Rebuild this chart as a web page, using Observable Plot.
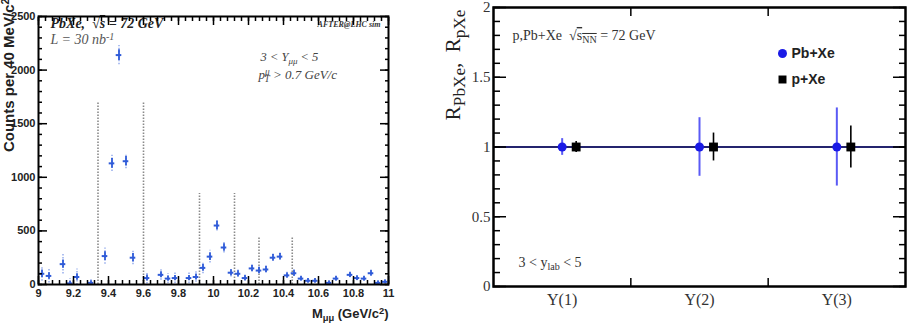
<!DOCTYPE html>
<html>
<head>
<meta charset="utf-8">
<script src="https://cdn.jsdelivr.net/npm/d3@7"></script>
<script src="https://cdn.jsdelivr.net/npm/@observablehq/plot@0.6"></script>
<style>
  html, body { margin: 0; padding: 0; background: white; }
  #wrap { display: flex; width: 909px; height: 327px; }
  #wrap svg { flex-shrink: 0; max-width: none; }
</style>
</head>
<body>
<div id="wrap"></div>
<script>
// ---------------- Left panel data ----------------
const mass = [9.02, 9.06, 9.14, 9.18, 9.22, 9.30, 9.38, 9.42, 9.46, 9.50, 9.54, 9.62, 9.70, 9.74, 9.78, 9.86, 9.90, 9.94, 9.98, 10.02, 10.06, 10.10, 10.14, 10.18, 10.22, 10.26, 10.30, 10.34, 10.38, 10.42, 10.46, 10.50, 10.54, 10.58, 10.66, 10.70, 10.78, 10.82, 10.86, 10.90, 10.94, 10.98];
const counts = [100, 80, 190, 10, 70, 15, 265, 1130, 2140, 1150, 250, 60, 90, 55, 60, 60, 70, 155, 260, 550, 345, 110, 100, 60, 150, 130, 140, 250, 260, 85, 105, 55, 35, 35, 15, 55, 90, 60, 55, 105, 15, 25];
const statErr = [35, 30, 38, 20, 30, 20, 40, 45, 50, 45, 40, 28, 28, 25, 25, 25, 28, 32, 35, 40, 35, 28, 28, 25, 28, 28, 28, 30, 30, 25, 28, 22, 20, 20, 18, 22, 25, 22, 22, 25, 18, 18];
const totErr = [70, 65, 93, 45, 75, 40, 75, 75, 90, 70, 65, 55, 50, 45, 50, 50, 50, 55, 60, 50, 50, 40, 35, 30, 35, 35, 35, 35, 35, 30, 30, 25, 25, 25, 20, 25, 28, 25, 25, 30, 20, 20];
const windowEdges = [9.34, 9.60, 9.92, 10.12, 10.26, 10.45];
const windowHeights = [1700, 1700, 850, 850, 440, 440];
const xTickLabels = [9, 9.2, 9.4, 9.6, 9.8, 10, 10.2, 10.4, 10.6, 10.8, 11];
const yTickLabelsL = [0, 500, 1000, 1500, 2000, 2500];

// ---------------- Right panel data ----------------
const states = ["Υ(1)", "Υ(2)", "Υ(3)"];
const rPbXe = [1, 1, 1];
const errPbXe = [0.06, 0.21, 0.28];
const rpXe = [1, 1, 1];
const errpXe = [0.04, 0.10, 0.15];
const yTickLabelsR = [0, 0.5, 1, 1.5, 2];

const BLUE = "#2f5bd8";
const LIGHTBLUE = "#8ea6ea";

const leftData = mass.map((m, i) => ({m, c: counts[i], s: statErr[i], t: totErr[i]}));
const windows = windowEdges.map((x, i) => ({x, h: windowHeights[i]}));

function range(a, b, step) { const out = []; const n = Math.round((b - a) / step); for (let i = 0; i <= n; i++) out.push(+(a + i * step).toFixed(4)); return out; }

const serif = "'Liberation Serif', 'Times New Roman', serif";
const sans = "'Liberation Sans', Arial, Helvetica, sans-serif";

const left = Plot.plot({
  width: 440, height: 327,
  marginLeft: 38, marginRight: 52, marginTop: 16, marginBottom: 43,
  x: {domain: [9, 11]},
  y: {domain: [0, 2500]},
  style: {fontFamily: sans, background: "white", overflow: "hidden"},
  marks: [
    Plot.ruleX(windows, {x: "x", y1: 0, y2: "h", stroke: "#8a8a8a", strokeWidth: 1.6, strokeDasharray: "1.5,1.5"}),
    Plot.ruleX(leftData, {x: "m", y1: d => d.c - d.t, y2: d => d.c + d.t, stroke: LIGHTBLUE, strokeWidth: 1.4, strokeDasharray: "1.5,1.5", clip: true}),
    Plot.ruleX(leftData, {x: "m", y1: d => Math.max(0, d.c - d.s), y2: d => d.c + d.s, stroke: BLUE, strokeWidth: 1.8}),
    Plot.ruleY(leftData, {y: "c", x1: d => d.m - 0.016, x2: d => d.m + 0.016, stroke: BLUE, strokeWidth: 2}),
    // annotations (drawn under the frame ticks)
    Plot.text(["PbXe,  √~{s} = 72 GeV"], {frameAnchor: "top-left", dx: 12, dy: 7, textAnchor: "start", lineAnchor: "middle", fontFamily: serif, fontStyle: "italic", fontWeight: "bold", fontSize: 14, fill: "#222", className: "rich"}),
    Plot.text(["L = 30 nb^{-1}"], {frameAnchor: "top-left", dx: 12, dy: 23, textAnchor: "start", lineAnchor: "middle", fontFamily: serif, fontStyle: "italic", fontSize: 14, fill: "#555", className: "rich"}),
    Plot.text(["AFTER@LHC sim"], {frameAnchor: "top-right", dx: -8, dy: 8, textAnchor: "end", lineAnchor: "middle", fontFamily: serif, fontStyle: "italic", fontWeight: "bold", fontSize: 8, fill: "#333"}),
    Plot.text(["3 < Y_{μμ} < 5"], {frameAnchor: "top-left", dx: 222, dy: 40, textAnchor: "start", lineAnchor: "middle", fontFamily: serif, fontStyle: "italic", fontSize: 12.5, fill: "#444", className: "rich"}),
    Plot.text(["p^{μ}!{T} > 0.7 GeV/c"], {frameAnchor: "top-left", dx: 220, dy: 58, textAnchor: "start", lineAnchor: "middle", fontFamily: serif, fontStyle: "italic", fontSize: 13, fill: "#444", className: "rich"}),
    Plot.text(["M_{μμ} (GeV/c^{2})"], {frameAnchor: "bottom-right", dx: 0, dy: 29, textAnchor: "end", lineAnchor: "middle", fontFamily: sans, fontWeight: "bold", fontSize: 13, fill: "#222", className: "rich"}),
    Plot.text(["Counts per 40 MeV/c^{2}"], {frameAnchor: "top-left", dx: -29, dy: -18, rotate: -90, textAnchor: "end", lineAnchor: "middle", fontFamily: sans, fontWeight: "bold", fontSize: 15, fill: "#222", className: "rich"}),
    // axes: minor & major ticks (inward), all four sides
    Plot.axisX({anchor: "bottom", ticks: range(9, 11, 0.04), tickSize: -4, tickFormat: () => "", label: null, strokeWidth: 1.5}),
    Plot.axisX({anchor: "bottom", ticks: xTickLabels, tickSize: -8, tickFormat: () => "", label: null, strokeWidth: 1.5}),
    Plot.axisX({anchor: "top", ticks: range(9, 11, 0.04), tickSize: -4, tickFormat: () => "", label: null, strokeWidth: 1.5}),
    Plot.axisX({anchor: "top", ticks: xTickLabels, tickSize: -8, tickFormat: () => "", label: null, strokeWidth: 1.5}),
    Plot.axisX({anchor: "bottom", ticks: xTickLabels, tickSize: 0, tickPadding: 5, label: null, tickFormat: d => String(+(+d).toFixed(1)), fontSize: 11, fontWeight: "bold", fill: "#222"}),
    Plot.axisY({anchor: "left", ticks: range(0, 2500, 100), tickSize: -4, tickFormat: () => "", label: null, strokeWidth: 1.5}),
    Plot.axisY({anchor: "left", ticks: yTickLabelsL, tickSize: -9, tickFormat: () => "", label: null, strokeWidth: 1.5}),
    Plot.axisY({anchor: "right", ticks: range(0, 2500, 100), tickSize: -4, tickFormat: () => "", label: null, strokeWidth: 1.5}),
    Plot.axisY({anchor: "right", ticks: yTickLabelsL, tickSize: -9, tickFormat: () => "", label: null, strokeWidth: 1.5}),
    Plot.axisY({anchor: "left", ticks: yTickLabelsL, tickSize: 0, tickPadding: 3, label: null, tickFormat: d => String(d), fontSize: 11, fontWeight: "bold", fill: "#222"}),
    Plot.frame({stroke: "black", strokeWidth: 2})
  ]
});

const pb = states.map((s, i) => ({x: i + 0.5, r: rPbXe[i], e: errPbXe[i]}));
const px = states.map((s, i) => ({x: i + 0.5, r: rpXe[i], e: errpXe[i]}));

const right = Plot.plot({
  width: 469, height: 327,
  marginLeft: 53, marginRight: 4, marginTop: 7, marginBottom: 41,
  x: {domain: [0, states.length]},
  y: {domain: [0, 2]},
  style: {fontFamily: serif, background: "white", overflow: "hidden"},
  marks: [
    Plot.ruleY([1], {stroke: "#24246e", strokeWidth: 2.2}),
    Plot.ruleX(pb, {x: "x", y1: d => d.r - d.e, y2: d => d.r + d.e, stroke: "#5a5af5", strokeWidth: 2}),
    Plot.dot(pb, {x: "x", y: "r", r: 4.5, fill: "#1a1ae6", stroke: "none"}),
    Plot.ruleX(px, {x: "x", y1: d => d.r - d.e, y2: d => d.r + d.e, dx: 14, stroke: "black", strokeWidth: 1.6}),
    Plot.dot(px, {x: "x", y: "r", dx: 14, symbol: "square", r: 5, fill: "black", stroke: "none"}),
    // axes
    Plot.axisY({anchor: "left", ticks: range(0, 2, 0.1), tickSize: -7, tickFormat: () => "", label: null, strokeWidth: 1.5}),
    Plot.axisY({anchor: "left", ticks: yTickLabelsR, tickSize: -13, tickFormat: () => "", label: null, strokeWidth: 1.5}),
    Plot.axisY({anchor: "right", ticks: range(0, 2, 0.1), tickSize: -7, tickFormat: () => "", label: null, strokeWidth: 1.5}),
    Plot.axisY({anchor: "right", ticks: yTickLabelsR, tickSize: -13, tickFormat: () => "", label: null, strokeWidth: 1.5}),
    Plot.axisY({anchor: "left", ticks: yTickLabelsR, tickSize: 0, tickPadding: 3, label: null, tickFormat: d => String(d), fontSize: 15, fill: "#333"}),
    Plot.axisX({anchor: "bottom", ticks: d3.range(1, states.length), tickSize: -8, tickFormat: () => "", label: null, strokeWidth: 1.5}),
    Plot.axisX({anchor: "top", ticks: d3.range(1, states.length), tickSize: -8, tickFormat: () => "", label: null, strokeWidth: 1.5}),
    Plot.axisX({anchor: "bottom", ticks: pb.map(d => d.x), tickSize: 0, tickPadding: 7, label: null, tickFormat: d => states[Math.floor(d)], fontSize: 16, fill: "#333"}),
    Plot.frame({stroke: "black", strokeWidth: 2.5}),
    // annotations
    Plot.text(["p,Pb+Xe  √~{s_{NN}} = 72 GeV"], {frameAnchor: "top-left", dx: 19, dy: 28, textAnchor: "start", lineAnchor: "middle", fontFamily: serif, fontSize: 14, fill: "#333", className: "rich"}),
    Plot.text(["3 < y_{lab} < 5"], {frameAnchor: "top-left", dx: 25, dy: 255, textAnchor: "start", lineAnchor: "middle", fontFamily: serif, fontSize: 14, fill: "#333", className: "rich"}),
    Plot.text(["R_{PbXe},  R_{pXe}"], {frameAnchor: "top-left", dx: -40, dy: 2, rotate: -90, textAnchor: "end", lineAnchor: "middle", fontFamily: serif, fontSize: 21, fill: "#222", className: "rich big"}),
    // legend
    Plot.dot([0], {frameAnchor: "top-left", dx: 289, dy: 46, r: 4.5, fill: "#1a1ae6", stroke: "none"}),
    Plot.dot([0], {frameAnchor: "top-left", dx: 289, dy: 72, symbol: "square", r: 4.5, fill: "black", stroke: "none"}),
    Plot.text(["Pb+Xe"], {frameAnchor: "top-left", dx: 298, dy: 46, textAnchor: "start", lineAnchor: "middle", fontFamily: sans, fontWeight: "bold", fontSize: 14, fill: "#222"}),
    Plot.text(["p+Xe"], {frameAnchor: "top-left", dx: 298, dy: 72, textAnchor: "start", lineAnchor: "middle", fontFamily: sans, fontWeight: "bold", fontSize: 14, fill: "#222"})
  ]
});

// turn _{..} ^{..} ~{..} !{..} markup into tspans
function richify(svg) {
  d3.select(svg).selectAll(".rich text").each(function () {
    const el = d3.select(this);
    const big = this.parentNode && this.parentNode.classList.contains("big");
    const subSize = big ? "82%" : "72%";
    const s = this.textContent;
    el.text(null);
    const parse = (str, parent) => {
      const re = /([_^~!])\{((?:[^{}]|\{[^{}]*\})*)\}/g;
      let last = 0, m;
      while ((m = re.exec(str))) {
        if (m.index > last) parent.append("tspan").text(str.slice(last, m.index));
        const t = parent.append("tspan");
        if (m[1] === "_") t.attr("font-size", subSize).attr("baseline-shift", "-28%");
        else if (m[1] === "^") t.attr("font-size", subSize).attr("baseline-shift", "45%");
        else if (m[1] === "!") t.attr("font-size", subSize).attr("baseline-shift", "-30%").attr("dx", "-0.55em");
        else t.style("text-decoration", "overline");
        parse(m[2], t);
        last = re.lastIndex;
      }
      if (last < str.length) parent.append("tspan").text(str.slice(last));
    };
    parse(s, el);
  });
}
richify(left);
richify(right);

document.getElementById("wrap").append(left, right);
</script>
</body>
</html>
